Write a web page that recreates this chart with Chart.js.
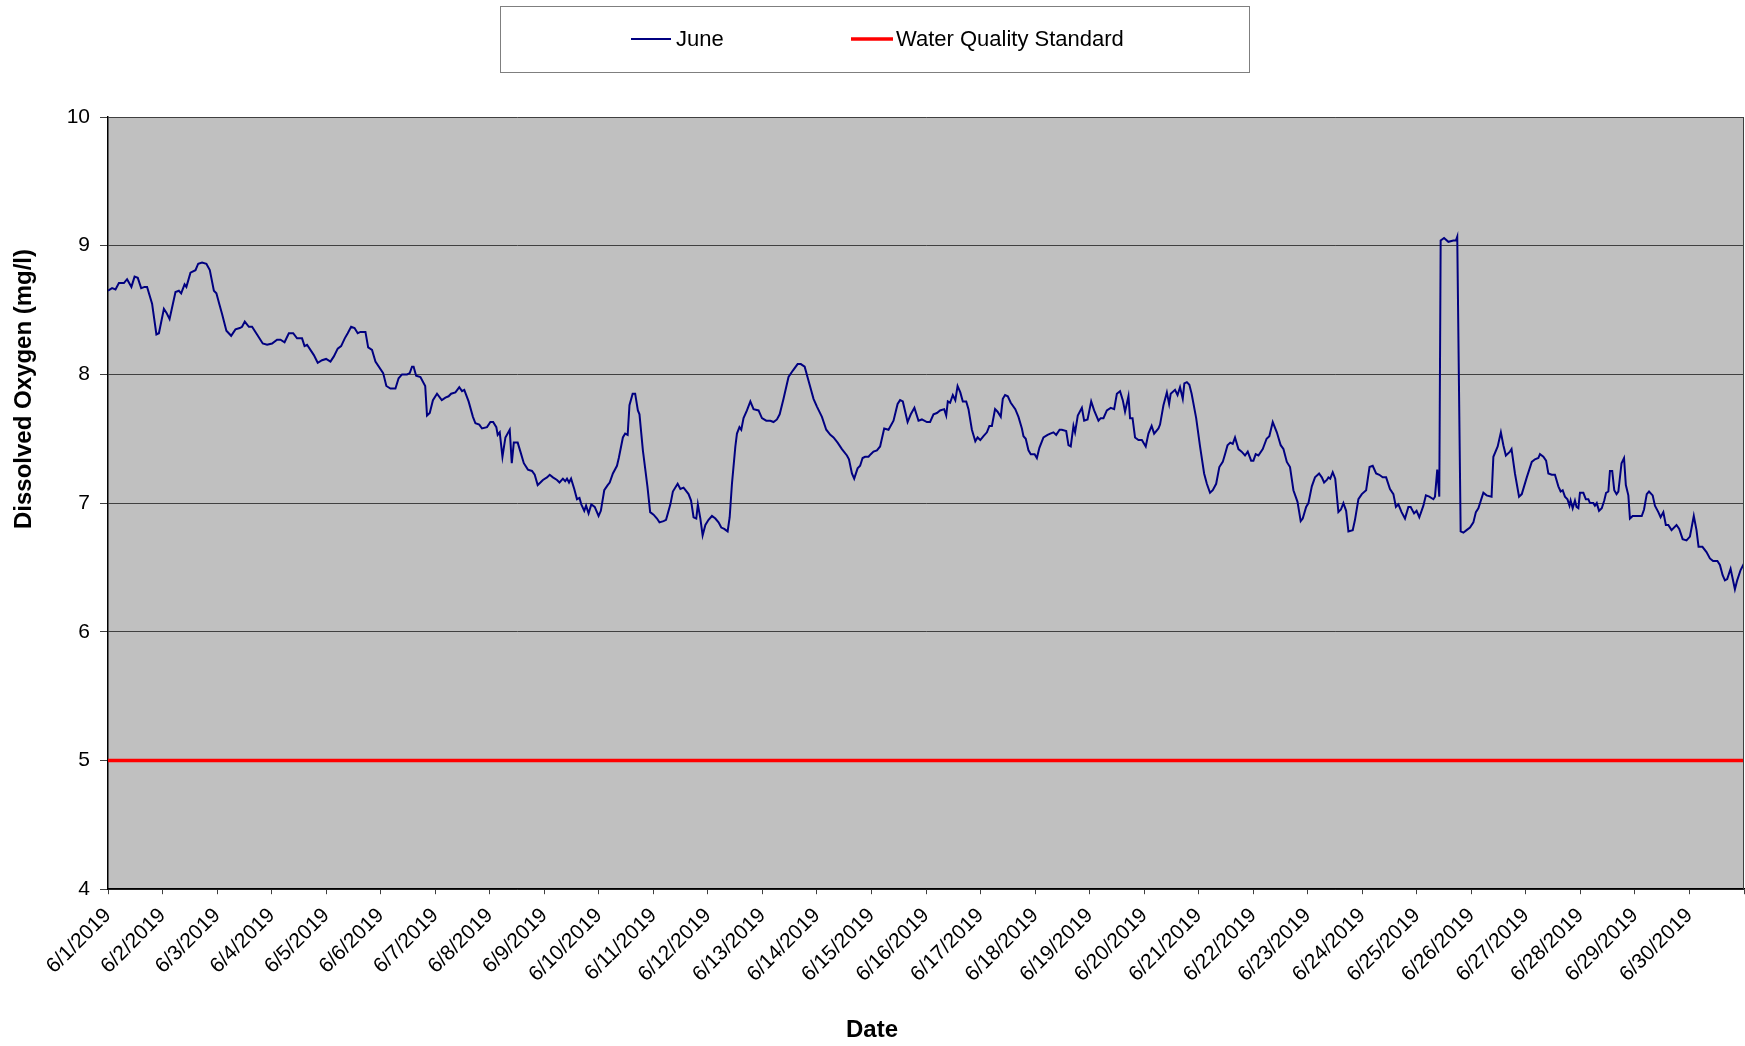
<!DOCTYPE html>
<html>
<head>
<meta charset="utf-8">
<title>Dissolved Oxygen - June 2019</title>
<script src="https://cdn.jsdelivr.net/npm/chart.js@4.4.1/dist/chart.umd.min.js"></script>
<style>
  html, body { margin: 0; padding: 0; background: #fff; }
  #wrap { width: 1745px; height: 1046px; }
</style>
</head>
<body>
<div id="wrap"><canvas id="mycanvas"></canvas></div>
<script>
// June readings: hours since 6/1/2019 00:00, dissolved oxygen in mg/l
var juneHour = [
  0, 1.8, 3.3, 4.8, 7.0, 8.4, 10.3, 11.7, 13.1, 14.6, 16.1, 17.2, 19.4, 21.3, 22.4, 24.6, 25.7, 27.1, 29.7, 31.2,
  32.2, 33.7, 34.5, 36.3, 38.5, 39.7, 41.4, 43.3, 44.8, 46.6, 47.7, 49.1, 50.2, 52.1, 54.2, 56.1, 58.0, 59.0, 60.2, 62.0,
  63.4, 65.6, 68.1, 70.0, 72.2, 74.4, 75.9, 77.7, 79.6, 81.5, 83.2, 85.4, 86.5, 87.6, 90.6, 92.3, 94.2, 96.0, 97.9, 99.4,
  101.1, 102.6, 104.2, 105.5, 107.0, 108.5, 109.9, 111.1, 113.3, 114.5, 116.2, 117.7, 121.1, 122.5, 124.3, 126.5, 127.9, 129.4, 131.6, 132.8,
  133.8, 134.5, 135.6, 137.5, 139.6, 140.4, 141.6, 143.0, 144.8, 146.9, 148.5, 149.9, 151.0, 152.9, 154.6, 155.8, 156.8, 158.7, 160.6, 161.7,
  163.4, 164.6, 166.8, 168.3, 169.5, 170.9, 171.5, 172.4, 173.6, 174.9, 176.8, 177.7, 178.6, 180.3, 181.5, 183.0, 184.8, 186.6, 187.8, 189.1,
  190.3, 191.4, 193.2, 194.4, 195.8, 197.6, 198.7, 200.2, 201.2, 202.0, 202.9, 203.8, 205.2, 206.4, 207.5, 208.3, 209.6, 210.4, 211.5, 212.7,
  214.2, 215.9, 216.9, 218.4, 219.9, 220.8, 222.2, 224.0, 224.8, 226.6, 227.6, 228.7, 229.5, 230.9, 232.0, 233.2, 233.9, 235.4, 236.9, 237.4,
  238.6, 240.1, 241.6, 242.7, 244.5, 245.6, 247.5, 248.6, 250.7, 251.9, 253.3, 255.5, 256.6, 257.7, 258.9, 259.6, 260.7, 261.7, 262.9, 264.3,
  265.8, 267.3, 268.7, 269.9, 271.2, 272.7, 273.6, 274.6, 276.1, 276.8, 277.9, 278.7, 279.7, 281.2, 282.7, 284.1, 286.3, 287.8, 289.7, 291.5,
  292.9, 294.4, 295.6, 297.3, 299.5, 301.4, 303.5, 304.9, 306.6, 308.3, 310.5, 312.0, 314.2, 316.1, 317.9, 319.3, 321.1, 323.0, 325.2, 326.1,
  327.4, 328.4, 329.9, 331.0, 332.1, 333.2, 334.7, 335.7, 336.9, 338.4, 339.8, 341.6, 343.5, 345.7, 347.5, 348.6, 349.8, 351.9, 353.3, 354.9,
  356.7, 358.2, 360.4, 361.8, 363.3, 364.8, 366.2, 368.0, 368.9, 369.6, 370.6, 371.8, 372.9, 373.9, 375.1, 376.2, 377.7, 378.7, 380.2, 381.7,
  382.7, 383.9, 385.3, 386.8, 387.9, 389.0, 390.4, 391.5, 392.9, 393.8, 394.8, 396.0, 397.3, 399.3, 400.7, 402.2, 402.9, 403.9, 405.1, 406.1,
  407.8, 408.8, 409.9, 411.7, 413.5, 414.7, 416.1, 417.3, 418.8, 419.8, 421.7, 422.7, 423.7, 424.9, 425.6, 426.8, 428.6, 429.6, 431.1, 432.7,
  434.0, 435.9, 436.9, 438.1, 439.6, 441.3, 442.8, 444.0, 445.4, 446.6, 447.6, 449.1, 449.8, 450.9, 452.0, 453.5, 455.0, 456.7, 457.9, 459.3,
  460.4, 462.3, 463.0, 464.5, 466.0, 467.0, 467.7, 469.6, 470.7, 471.8, 473.0, 473.7, 474.8, 475.9, 476.9, 478.9, 480.6, 482.4, 483.6, 485.0,
  486.2, 487.7, 489.1, 490.6, 491.6, 492.7, 493.9, 495.0, 496.0, 497.5, 498.9, 500.4, 501.6, 503.1, 504.1, 505.1, 506.3, 508.2, 509.9, 511.1,
  512.6, 514.4, 516.1, 517.3, 518.8, 520.2, 521.7, 523.5, 524.9, 525.8, 527.3, 528.3, 529.8, 531.2, 533.0, 534.2, 535.2, 536.4, 537.1, 537.9,
  539.0, 540.1, 541.5, 542.6, 543.7, 544.9, 545.9, 547.8, 548.8, 550.3, 551.8, 553.7, 555.2, 556.6, 558.1, 559.5, 561.0, 562.5, 564.2, 565.7,
  566.8, 567.9, 569.3, 570.8, 572.3, 573.3, 574.8, 575.9, 577.1, 578.9, 580.0, 581.5, 583.3, 584.0, 585.0, 585.9, 586.5, 588.0, 589.9, 592.1,
  593.2, 593.8, 595.3, 596.5, 597.9, 599.4, 600.9, 602.0, 603.1, 605.3, 606.7, 608.9, 609.7, 611.6, 613.0, 614.1, 615.2, 617.0, 617.7, 619.2,
  621.0, 622.2, 624.4, 626.6, 628.0, 629.5, 630.2, 631.7, 632.9, 633.9, 635.4, 636.8, 638.3, 639.3, 640.2, 641.2, 642.3, 643.2, 643.7, 644.6,
  645.6, 646.3, 647.1, 647.8, 649.3, 650.4, 651.5, 652.2, 653.7, 654.4, 655.2, 656.2, 657.4, 658.5, 659.3, 660.3, 661.0, 662.0, 662.9, 663.9,
  664.7, 666.1, 667.2, 668.0, 669.1, 669.8, 671.0, 672.0, 673.1, 675.0, 676.0, 677.2, 678.2, 679.8, 680.8, 682.3, 683.3, 684.5, 685.6, 686.7,
  688.1, 690.3, 691.5, 693.0, 694.7, 696.2, 697.9, 699.1, 700.0, 701.7, 703.5, 705.0, 706.4, 708.3, 709.4, 710.6, 711.6, 712.6, 714.1, 716.0,
  717.0, 718.5, 720.0
]
var juneDO = [
  8.65, 8.67, 8.66, 8.71, 8.71, 8.74, 8.68, 8.76, 8.75, 8.67, 8.68, 8.68, 8.55, 8.31, 8.32, 8.51, 8.48, 8.43, 8.64, 8.65,
  8.63, 8.70, 8.68, 8.79, 8.81, 8.86, 8.87, 8.86, 8.81, 8.65, 8.63, 8.54, 8.47, 8.34, 8.30, 8.35, 8.36, 8.37, 8.41, 8.37,
  8.37, 8.31, 8.24, 8.23, 8.24, 8.27, 8.27, 8.25, 8.32, 8.32, 8.28, 8.28, 8.22, 8.23, 8.15, 8.09, 8.11, 8.12, 8.10, 8.14,
  8.20, 8.22, 8.28, 8.32, 8.37, 8.36, 8.32, 8.33, 8.33, 8.21, 8.19, 8.10, 8.01, 7.91, 7.89, 7.89, 7.97, 8.00, 8.00, 8.01,
  8.06, 8.06, 7.99, 7.98, 7.91, 7.68, 7.70, 7.80, 7.85, 7.80, 7.82, 7.83, 7.85, 7.86, 7.90, 7.87, 7.88, 7.79, 7.67, 7.62,
  7.61, 7.58, 7.59, 7.63, 7.63, 7.59, 7.53, 7.55, 7.36, 7.51, 7.57, 7.31, 7.47, 7.47, 7.40, 7.31, 7.26, 7.25, 7.22, 7.14,
  7.16, 7.18, 7.20, 7.22, 7.20, 7.18, 7.16, 7.19, 7.17, 7.19, 7.16, 7.19, 7.11, 7.03, 7.04, 6.99, 6.94, 6.98, 6.92, 6.99,
  6.97, 6.90, 6.94, 7.10, 7.14, 7.16, 7.23, 7.29, 7.35, 7.51, 7.54, 7.53, 7.76, 7.85, 7.85, 7.72, 7.69, 7.41, 7.20, 7.13,
  6.93, 6.91, 6.88, 6.85, 6.86, 6.87, 6.99, 7.09, 7.15, 7.11, 7.12, 7.07, 7.02, 6.89, 6.88, 6.99, 6.88, 6.75, 6.83, 6.87,
  6.90, 6.88, 6.85, 6.81, 6.80, 6.78, 6.89, 7.15, 7.44, 7.54, 7.59, 7.57, 7.66, 7.72, 7.79, 7.73, 7.72, 7.66, 7.64, 7.64,
  7.63, 7.65, 7.69, 7.81, 7.98, 8.03, 8.08, 8.08, 8.06, 7.95, 7.81, 7.75, 7.67, 7.57, 7.53, 7.51, 7.47, 7.42, 7.37, 7.34,
  7.23, 7.19, 7.27, 7.29, 7.35, 7.36, 7.36, 7.38, 7.40, 7.41, 7.44, 7.58, 7.57, 7.64, 7.77, 7.80, 7.79, 7.63, 7.69, 7.74,
  7.64, 7.65, 7.63, 7.63, 7.69, 7.70, 7.72, 7.73, 7.68, 7.79, 7.78, 7.84, 7.80, 7.91, 7.86, 7.79, 7.79, 7.73, 7.57, 7.48,
  7.51, 7.49, 7.52, 7.55, 7.60, 7.60, 7.73, 7.71, 7.67, 7.81, 7.84, 7.83, 7.78, 7.73, 7.67, 7.58, 7.52, 7.50, 7.41, 7.38,
  7.38, 7.35, 7.43, 7.51, 7.53, 7.54, 7.55, 7.53, 7.57, 7.57, 7.56, 7.45, 7.44, 7.60, 7.55, 7.68, 7.74, 7.64, 7.65, 7.79,
  7.72, 7.64, 7.66, 7.66, 7.72, 7.74, 7.73, 7.85, 7.87, 7.80, 7.71, 7.83, 7.66, 7.66, 7.51, 7.49, 7.49, 7.44, 7.54, 7.60,
  7.54, 7.58, 7.61, 7.76, 7.86, 7.77, 7.85, 7.88, 7.84, 7.90, 7.81, 7.93, 7.94, 7.92, 7.85, 7.66, 7.44, 7.23, 7.15, 7.08,
  7.10, 7.15, 7.28, 7.32, 7.38, 7.45, 7.47, 7.46, 7.51, 7.42, 7.40, 7.37, 7.40, 7.33, 7.33, 7.38, 7.37, 7.42, 7.50, 7.52,
  7.63, 7.55, 7.45, 7.42, 7.32, 7.28, 7.10, 7.01, 6.86, 6.88, 6.97, 7.00, 7.13, 7.20, 7.23, 7.20, 7.16, 7.18, 7.20, 7.19,
  7.24, 7.19, 6.93, 6.95, 7.00, 6.94, 6.78, 6.79, 6.87, 7.03, 7.07, 7.10, 7.28, 7.29, 7.23, 7.22, 7.20, 7.20, 7.11, 7.07,
  6.97, 6.99, 6.93, 6.88, 6.97, 6.97, 6.92, 6.94, 6.89, 6.98, 7.06, 7.05, 7.03, 7.05, 7.26, 7.05, 9.04, 9.06, 9.03, 9.04,
  9.04, 9.07, 6.78, 6.77, 6.79, 6.81, 6.85, 6.93, 6.96, 7.08, 7.06, 7.05, 7.36, 7.44, 7.55, 7.45, 7.37, 7.40, 7.42, 7.23,
  7.05, 7.07, 7.20, 7.32, 7.34, 7.35, 7.38, 7.36, 7.33, 7.23, 7.22, 7.22, 7.13, 7.09, 7.10, 7.05, 7.03, 6.98, 7.02, 6.96,
  7.02, 6.97, 6.96, 7.08, 7.08, 7.03, 7.03, 7.00, 7.00, 6.98, 7.00, 6.94, 6.96, 7.02, 7.08, 7.09, 7.25, 7.25, 7.10, 7.07,
  7.09, 7.31, 7.35, 7.14, 7.06, 6.88, 6.90, 6.90, 6.90, 6.90, 6.95, 7.07, 7.09, 7.06, 6.98, 6.93, 6.89, 6.93, 6.83, 6.83,
  6.79, 6.83, 6.80, 6.72, 6.71, 6.74, 6.90, 6.79, 6.66, 6.66, 6.62, 6.57, 6.55, 6.55, 6.52, 6.44, 6.40, 6.41, 6.49, 6.33,
  6.40, 6.48, 6.53
]
// water quality standard, flat across the month
var standardHour = [0, 720]
var standardDO = [5, 5]

var dateLabels = ['6/1/2019', '6/2/2019', '6/3/2019', '6/4/2019', '6/5/2019', '6/6/2019', '6/7/2019', '6/8/2019',
  '6/9/2019', '6/10/2019', '6/11/2019', '6/12/2019', '6/13/2019', '6/14/2019', '6/15/2019', '6/16/2019', '6/17/2019',
  '6/18/2019', '6/19/2019', '6/20/2019', '6/21/2019', '6/22/2019', '6/23/2019', '6/24/2019', '6/25/2019', '6/26/2019',
  '6/27/2019', '6/28/2019', '6/29/2019', '6/30/2019']
var yTicks = [4, 5, 6, 7, 8, 9, 10]

var FONT = '"Liberation Sans", Arial, sans-serif'

function toPoints(xs, ys){
    return xs.map(function(x, i){ return {x: x, y: ys[i]} })
}

// grey plot area, frame, boxed legend and the y title
var excelLook = {
    id: 'excelLook',
    beforeDraw: function(chart){
        var ctx = chart.ctx, a = chart.chartArea
        ctx.save()
        ctx.fillStyle = '#ffffff'
        ctx.fillRect(0, 0, chart.width, chart.height)
        ctx.fillStyle = '#c0c0c0'
        ctx.fillRect(a.left, a.top, a.right - a.left, a.bottom - a.top)
        ctx.restore()
    },
    afterDraw: function(chart){
        var ctx = chart.ctx, a = chart.chartArea
        ctx.save()
        ctx.strokeStyle = '#404040'
        ctx.lineWidth = 1
        ctx.beginPath()
        ctx.moveTo(a.right - 0.5, a.top)
        ctx.lineTo(a.right - 0.5, a.bottom)
        ctx.stroke()

        // legend box
        ctx.fillStyle = '#ffffff'
        ctx.fillRect(500, 6, 749, 66)
        ctx.strokeStyle = '#7f7f7f'
        ctx.strokeRect(500.5, 6.5, 749, 66)
        ctx.font = '22px ' + FONT
        ctx.textBaseline = 'middle'
        ctx.textAlign = 'left'
        ctx.fillStyle = '#000'
        var items = chart.data.datasets
        var pos = [{x0: 631, x1: 671, tx: 676}, {x0: 851, x1: 893, tx: 896}]
        items.forEach(function(ds, i){
            ctx.strokeStyle = ds.borderColor
            ctx.lineWidth = ds.borderWidth
            ctx.beginPath()
            ctx.moveTo(pos[i].x0, 39)
            ctx.lineTo(pos[i].x1, 39)
            ctx.stroke()
            ctx.fillText(ds.label, pos[i].tx, 40)
        })

        // y axis title
        ctx.translate(24, 389)
        ctx.rotate(-Math.PI / 2)
        ctx.font = 'bold 24px ' + FONT
        ctx.textAlign = 'center'
        ctx.fillText('Dissolved Oxygen (mg/l)', 0, 0)
        ctx.restore()
    }
}

var context = document.getElementById('mycanvas').getContext('2d')

new Chart(context, {
    type: 'line',
    data: {
        datasets: [{
            label: 'June',
            data: toPoints(juneHour, juneDO),
            borderColor: '#000080',
            borderWidth: 2,
            pointRadius: 0,
            tension: 0
        }, {
            label: 'Water Quality Standard',
            data: toPoints(standardHour, standardDO),
            borderColor: '#ff0000',
            borderWidth: 3.5,
            pointRadius: 0,
            tension: 0
        }]
    },
    options: {
        responsive: true,
        maintainAspectRatio: false,
        animation: false,
        layout: {padding: {top: 117, right: 1, left: 0, bottom: 0}},
        plugins: {
            legend: {display: false},
            tooltip: {enabled: false},
            title: {
                display: true,
                position: 'bottom',
                text: 'Date',
                color: '#000',
                font: {family: FONT, size: 24, weight: 'bold'},
                padding: {top: 0, bottom: 1}
            }
        },
        scales: {
            x: {
                type: 'linear',
                min: 0,
                max: 720,
                afterFit: function(scale){
                    scale.height = 127
                    scale.paddingLeft = 0
                    scale.paddingRight = 0
                },
                ticks: {
                    stepSize: 24,
                    autoSkip: false,
                    maxRotation: 45,
                    minRotation: 45,
                    padding: 9,
                    color: '#000',
                    font: {family: FONT, size: 21},
                    callback: function(v){ return dateLabels[v / 24] || '' }
                },
                grid: {drawOnChartArea: false, drawTicks: true, tickLength: 5, color: '#404040'},
                border: {display: true, color: '#000', width: 1.5}
            },
            y: {
                min: 4,
                max: 10,
                afterFit: function(scale){
                    scale.width = 108
                    scale.paddingTop = 0
                    scale.paddingBottom = 0
                },
                afterBuildTicks: function(scale){
                    scale.ticks = yTicks.map(function(v){ return {value: v} })
                },
                ticks: {
                    padding: 10,
                    color: '#000',
                    font: {family: FONT, size: 21}
                },
                grid: {color: '#404040', lineWidth: 1, tickLength: 8},
                border: {display: true, color: '#000', width: 1.5}
            }
        }
    },
    plugins: [excelLook]
})
</script>
</body>
</html>
